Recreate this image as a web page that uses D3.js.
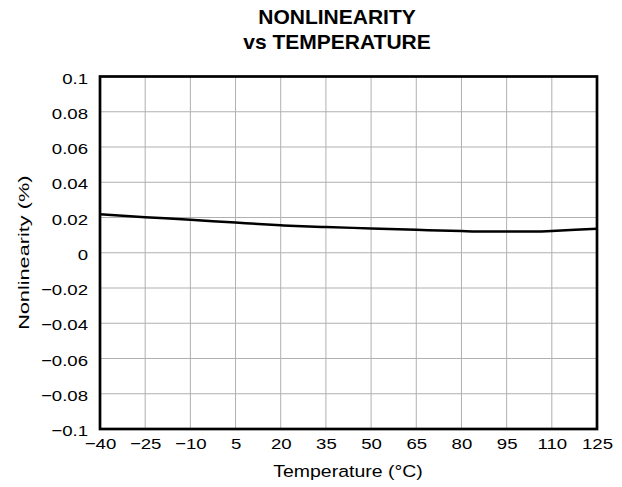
<!DOCTYPE html>
<html>
<head>
<meta charset="utf-8">
<script src="https://cdn.jsdelivr.net/npm/d3@7"></script>
<style>
  body { margin: 0; background: #fff; }
  svg { font-family: "Liberation Sans", Arial, sans-serif; }
</style>
</head>
<body>
<svg id="chart" width="622" height="487"></svg>
<script>
// data
let temps = [-40, -25, -10, 5, 20, 25, 35, 50, 65, 80, 85, 95, 105, 110, 125]
let nonlin = [0.0218, 0.0202, 0.0187, 0.0171, 0.0156, 0.0152, 0.0146, 0.0138, 0.0130, 0.0123, 0.0121, 0.0121, 0.0120, 0.0124, 0.0136]
let xTicks = [-40, -25, -10, 5, 20, 35, 50, 65, 80, 95, 110, 125]
let yTicks = [-0.1, -0.08, -0.06, -0.04, -0.02, 0, 0.02, 0.04, 0.06, 0.08, 0.1]

let svg = d3.select("#chart")
let plotL = 100, plotR = 597, plotT = 76.5, plotB = 429

let x = d3.scaleLinear().domain([-40, 125]).range([plotL, plotR])
let y = d3.scaleLinear().domain([-0.1, 0.1]).range([plotB, plotT])

let fmt = (v) => {
    let s = Math.abs(v) < 1e-9 ? "0" : String(+v.toFixed(2))
    return s.replace("-", "\u2212")
}

// reference glyphs are a little wide: stretch horizontally
let sx = 1.2

// grid
svg.append("g").selectAll("line")
    .data(xTicks)
    .join("line")
    .attr("x1", (d) => x(d)).attr("x2", (d) => x(d))
    .attr("y1", plotT).attr("y2", plotB)
    .attr("stroke", "#b0b0b0").attr("stroke-width", 1)

svg.append("g").selectAll("line")
    .data(yTicks)
    .join("line")
    .attr("x1", plotL).attr("x2", plotR)
    .attr("y1", (d) => y(d)).attr("y2", (d) => y(d))
    .attr("stroke", "#b0b0b0").attr("stroke-width", 1)

// tick labels via d3 axes
let xAxis = svg.append("g")
    .attr("transform", "translate(0," + plotB + ")")
    .call(d3.axisBottom(x).tickValues(xTicks).tickSize(0).tickPadding(9).tickFormat(fmt))
let yAxis = svg.append("g")
    .attr("transform", "translate(" + plotL + ",0)")
    .call(d3.axisLeft(y).tickValues(yTicks).tickSize(0).tickPadding(12).tickFormat(fmt))
xAxis.select(".domain").remove()
yAxis.select(".domain").remove()
svg.selectAll(".tick text")
    .attr("font-family", "Liberation Sans, Arial, sans-serif")
    .attr("font-size", 15.5)
    .attr("fill", "#000")
    .attr("transform", "scale(" + sx + ",1)")
yAxis.selectAll(".tick text")
    .attr("dy", "0.42em")
    .attr("x", -12 / sx)

// data line
let line = d3.line()
    .x((d, i) => x(temps[i]))
    .y((d) => y(d))
    .curve(d3.curveMonotoneX)

svg.append("path")
    .attr("d", line(nonlin))
    .attr("fill", "none")
    .attr("stroke", "#000")
    .attr("stroke-width", 2.5)

// frame
svg.append("rect")
    .attr("x", plotL).attr("y", plotT)
    .attr("width", plotR - plotL).attr("height", plotB - plotT)
    .attr("fill", "none")
    .attr("stroke", "#000")
    .attr("stroke-width", 2.7)

// titles
svg.append("text")
    .attr("x", 337).attr("y", 23.5)
    .attr("text-anchor", "middle")
    .attr("font-size", 21).attr("font-weight", "bold")
    .text("NONLINEARITY")
svg.append("text")
    .attr("x", 337).attr("y", 49)
    .attr("text-anchor", "middle")
    .attr("font-size", 21).attr("font-weight", "bold")
    .text("vs TEMPERATURE")

svg.append("text")
    .attr("transform", "translate(348,477) scale(1.18,1)")
    .attr("text-anchor", "middle")
    .attr("font-size", 16.5)
    .text("Temperature (°C)")

svg.append("text")
    .attr("transform", "translate(29," + (plotT + plotB) / 2 + ") rotate(-90) scale(1.4,1)")
    .attr("text-anchor", "middle")
    .attr("font-size", 15.5)
    .text("Nonlinearity (%)")
</script>
</body>
</html>
